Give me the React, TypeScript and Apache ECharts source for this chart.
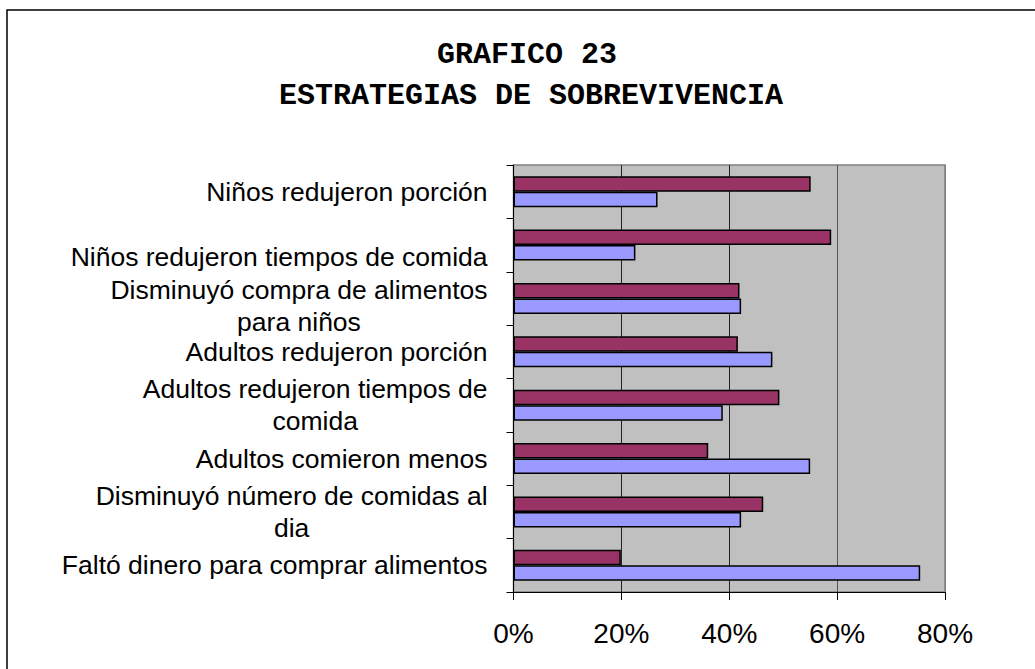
import React, { useEffect, useRef } from "react";
import * as echarts from "echarts";

const categories = [
  "Faltó dinero para comprar alimentos",
  "Disminuyó número de comidas al\ndia",
  "Adultos comieron menos",
  "Adultos redujeron tiempos de\ncomida",
  "Adultos redujeron porción",
  "Disminuyó compra de alimentos\npara niños",
  "Niños redujeron tiempos de comida",
  "Niños redujeron porción",
];
const labelShift: Record<number, number> = { 5: 16, 6: 24 };
const seriesPurple = [19.9, 46.3, 36.1, 49.3, 41.6, 41.9, 58.9, 55.1];
const seriesBlue = [75.4, 42.2, 55.0, 38.8, 48.0, 42.2, 22.6, 26.7];
const xTicks = [0, 20, 40, 60, 80];
const titleLines = ["GRAFICO 23", "ESTRATEGIAS DE SOBREVIVENCIA"];

export default function App() {
  const ref = useRef<HTMLDivElement>(null);
  useEffect(() => {
    if (!ref.current) return;
    const chart = echarts.init(ref.current, null, { renderer: "svg" });
    const catData = categories.map((c, i) =>
      labelShift[i]
        ? { value: c, textStyle: { padding: [labelShift[i], 0, 0, 0] } }
        : c
    );
    chart.setOption({
      animation: false,
      backgroundColor: "#ffffff",
      graphic: [
        {
          type: "rect",
          shape: { x: 7, y: 10, width: 1100, height: 800 },
          style: { fill: "none", stroke: "#000", lineWidth: 1.5 },
          silent: true,
        },
        {
          type: "text",
          x: 527,
          y: 55,
          style: {
            text: titleLines[0],
            font: "bold 30px 'Liberation Mono', 'DejaVu Sans Mono', monospace",
            fill: "#000",
            align: "center",
            verticalAlign: "middle",
          },
        },
        {
          type: "text",
          x: 531,
          y: 96,
          style: {
            text: titleLines[1],
            font: "bold 30px 'Liberation Mono', 'DejaVu Sans Mono', monospace",
            fill: "#000",
            align: "center",
            verticalAlign: "middle",
          },
        },
      ],
      grid: {
        left: 513.5,
        right: 90,
        top: 165,
        bottom: 77,
        show: true,
        backgroundColor: "#C0C0C0",
        borderColor: "#808080",
        borderWidth: 1.5,
        containLabel: false,
      },
      xAxis: {
        type: "value",
        min: xTicks[0],
        max: xTicks[xTicks.length - 1],
        interval: 20,
        axisLine: { show: true, lineStyle: { color: "#000", width: 1 } },
        axisTick: { show: true, length: 8, lineStyle: { color: "#000" } },
        axisLabel: {
          formatter: "{value}%",
          fontFamily: "'Liberation Sans', Arial, sans-serif",
          fontSize: 28,
          color: "#000",
          margin: 27,
        },
        splitLine: {
          show: true,
          lineStyle: {
            color: ["#000", "#222", "#222", "#555", "#808080"],
            width: 1,
          },
        },
      },
      yAxis: {
        type: "category",
        data: catData,
        axisLine: { show: true, lineStyle: { color: "#000", width: 1 } },
        axisTick: { show: true, length: 7, lineStyle: { color: "#000" } },
        axisLabel: {
          fontFamily: "'Liberation Sans', Arial, sans-serif",
          fontSize: 26.5,
          color: "#000",
          margin: 26,
          lineHeight: 32,
          formatter: (v: string) =>
            v
              .split("\n")
              .map((l) => "{c|" + l + "}")
              .join("\n"),
          rich: {
            c: {
              align: "center",
              fontFamily: "'Liberation Sans', Arial, sans-serif",
              fontSize: 26.5,
              color: "#000",
              lineHeight: 32,
            },
          },
        },
        splitLine: { show: false },
      },
      series: [
        {
          name: "Serie 1",
          type: "bar",
          data: seriesPurple,
          barWidth: 15.5,
          barGap: "0%",
          itemStyle: { color: "#993366", borderColor: "#000", borderWidth: 1.5 },
        },
        {
          name: "Serie 2",
          type: "bar",
          data: seriesBlue,
          barWidth: 15.5,
          barGap: "0%",
          itemStyle: { color: "#9999FF", borderColor: "#000", borderWidth: 1.5 },
        },
      ],
    });
    return () => chart.dispose();
  }, []);
  return (
    <div
      ref={ref}
      style={{ position: "absolute", left: 0, top: 0, width: 1035, height: 669 }}
    />
  );
}
